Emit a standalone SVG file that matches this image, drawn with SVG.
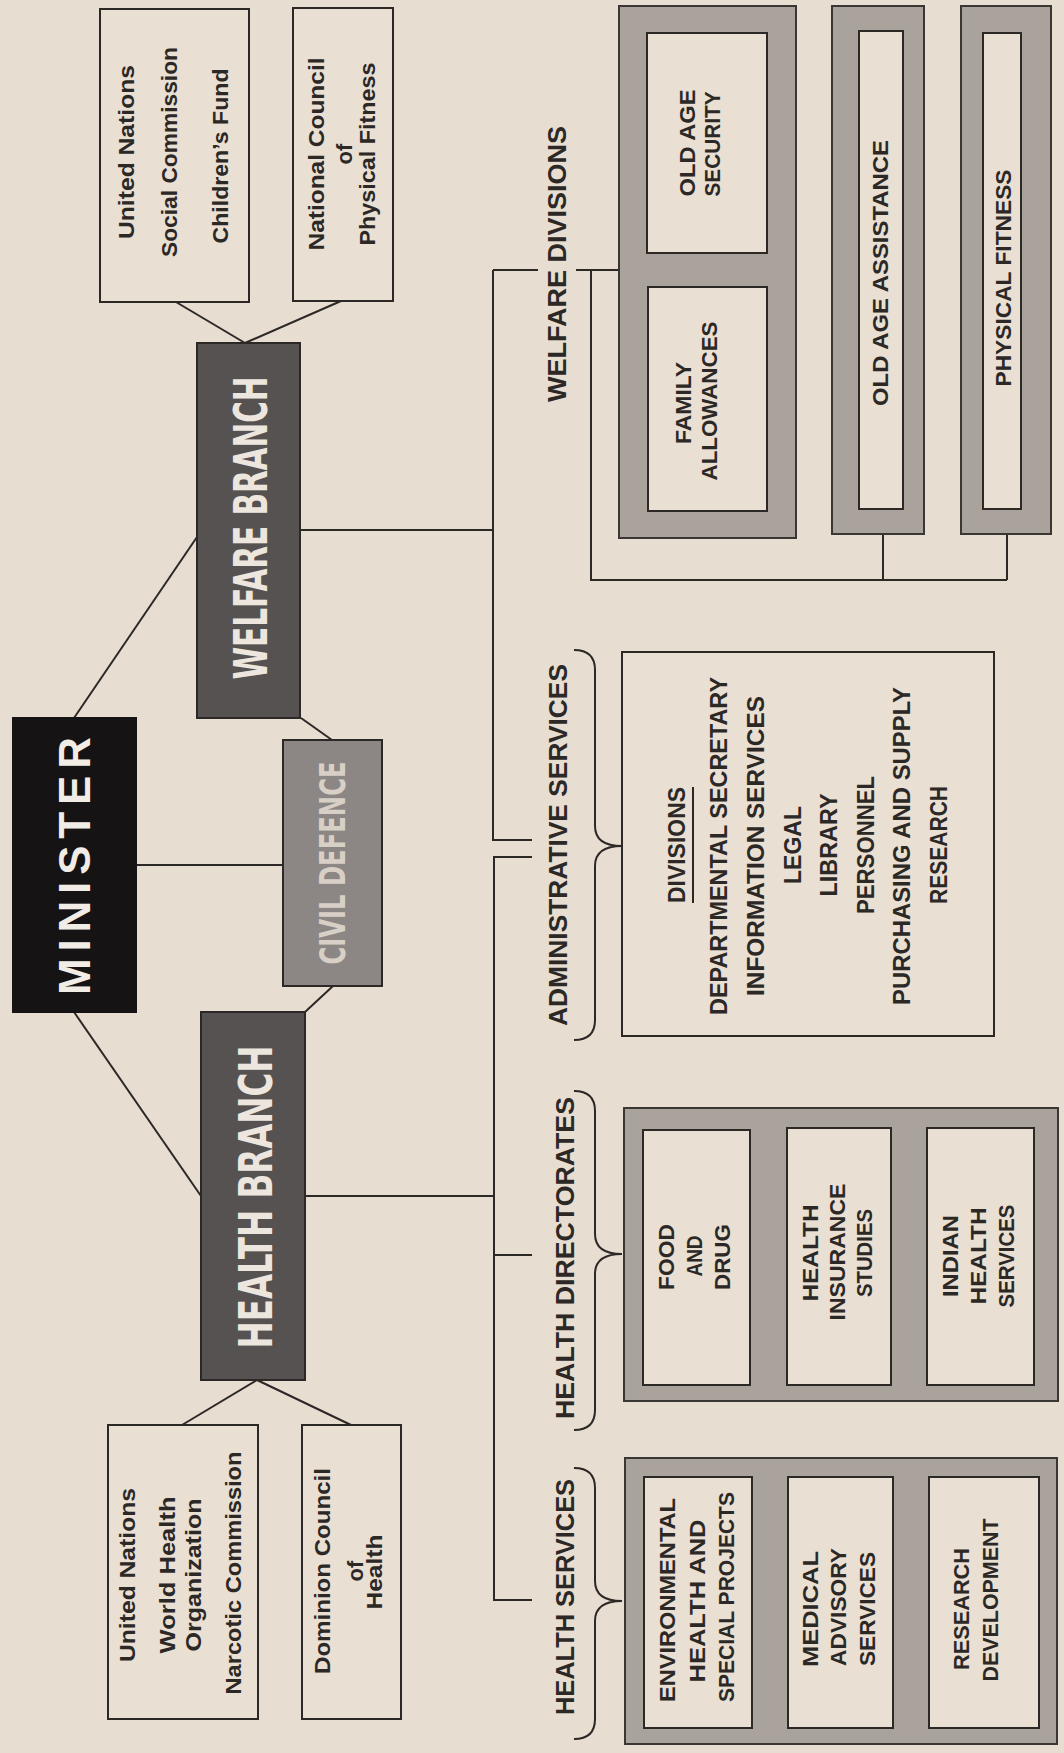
<svg xmlns="http://www.w3.org/2000/svg" width="1064" height="1753" viewBox="0 0 1064 1753">
<style>
.ln{stroke:#2b2826;stroke-width:2;fill:none}
.box{fill:#e9dfd3;stroke:#2b2826;stroke-width:2}
.outer{fill:#aaa39c;stroke:#3a3634;stroke-width:2}
.t{font-family:"Liberation Sans",Arial,sans-serif;font-weight:bold;fill:#2b2826;text-anchor:middle;dominant-baseline:central}
.n{font-family:"Liberation Sans Narrow","DejaVu Sans Condensed","Liberation Sans",sans-serif;font-weight:bold;text-anchor:middle;dominant-baseline:central}
.w{fill:#f1ece5}
.s22{font-size:22px}
.s23{font-size:23px}
.s26{font-size:26px}
</style>
<rect x="0" y="0" width="1064" height="1753" fill="#e8ddd1"/>

<g id="connectors">
  <line class="ln" x1="176" y1="302" x2="245" y2="343"/>
  <line class="ln" x1="341" y1="301" x2="245" y2="343"/>
  <line class="ln" x1="74" y1="718" x2="197" y2="537"/>
  <line class="ln" x1="74" y1="1012" x2="201" y2="1196"/>
  <line class="ln" x1="136" y1="865" x2="283" y2="865"/>
  <line class="ln" x1="301" y1="718" x2="332" y2="740"/>
  <line class="ln" x1="333" y1="986" x2="305" y2="1012"/>
  <line class="ln" x1="257" y1="1380" x2="182" y2="1425"/>
  <line class="ln" x1="257" y1="1380" x2="351" y2="1425"/>
  <line class="ln" x1="300" y1="530" x2="493" y2="530"/>
  <line class="ln" x1="306" y1="1196" x2="494" y2="1196"/>
  <path class="ln" d="M493 270 L493 840 L532 840"/>
  <path class="ln" d="M493 270 L538 270 M576 270 L619 270"/>
  <path class="ln" d="M532 857 L494 857 L494 1600 L532 1600"/>
  <line class="ln" x1="494" y1="1255" x2="532" y2="1255"/>
  <path class="ln" d="M591 270 L591 580 L1007 580 M883 534 L883 580 M1007 534 L1007 580"/>
  <path class="ln" d="M574 650 Q595 650 595 670 L595 826 Q595 846 622 846 Q595 846 595 866 L595 1020 Q595 1040 574 1040"/>
  <path class="ln" d="M574 1091 Q595 1091 595 1111 L595 1234 Q595 1254 622 1254 Q595 1254 595 1274 L595 1410 Q595 1430 574 1430"/>
  <path class="ln" d="M574 1468 Q595 1468 595 1488 L595 1581 Q595 1601 622 1601 Q595 1601 595 1621 L595 1719 Q595 1739 574 1739"/>
</g>

<g id="un-welfare">
  <rect class="box" x="100" y="9" width="149" height="293"/>
  <text class="t s22" transform="translate(126,152) rotate(-90)" textLength="174" lengthAdjust="spacingAndGlyphs">United Nations</text>
  <text class="t s22" transform="translate(169,152) rotate(-90)" textLength="210" lengthAdjust="spacingAndGlyphs">Social Commission</text>
  <text class="t s22" transform="translate(220,156) rotate(-90)" textLength="175" lengthAdjust="spacingAndGlyphs">Children’s Fund</text>
</g>
<g id="ncpf">
  <rect class="box" x="293" y="8" width="100" height="293"/>
  <text class="t s22" transform="translate(316,154) rotate(-90)" textLength="193" lengthAdjust="spacingAndGlyphs">National Council</text>
  <text class="t s22" transform="translate(344,154) rotate(-90)">of</text>
  <text class="t s22" transform="translate(367,154) rotate(-90)" textLength="183" lengthAdjust="spacingAndGlyphs">Physical Fitness</text>
</g>

<g id="welfare-branch">
  <rect x="197" y="343" width="103" height="375" fill="#575252" stroke="#2b2826" stroke-width="2"/>
  <text class="n" fill="#ece6de" font-size="47" transform="translate(250,528) rotate(-90)" textLength="303" lengthAdjust="spacingAndGlyphs">WELFARE BRANCH</text>
</g>

<g id="minister">
  <rect x="13" y="718" width="123" height="294" fill="#151313" stroke="#151313" stroke-width="2"/>
  <text class="t w" font-size="44" transform="translate(74,866) rotate(-90)" textLength="258" lengthAdjust="spacing">MINISTER</text>
</g>

<g id="civil-defence">
  <rect x="283" y="740" width="99" height="246" fill="#8c8784" stroke="#2b2826" stroke-width="2"/>
  <text class="n" fill="#d8d0c7" font-size="36" transform="translate(332,863) rotate(-90)" textLength="203" lengthAdjust="spacingAndGlyphs">CIVIL DEFENCE</text>
</g>

<g id="health-branch">
  <rect x="201" y="1012" width="104" height="368" fill="#575252" stroke="#2b2826" stroke-width="2"/>
  <text class="n" fill="#ece6de" font-size="47" transform="translate(255,1197) rotate(-90)" textLength="303" lengthAdjust="spacingAndGlyphs">HEALTH BRANCH</text>
</g>

<g id="un-health">
  <rect class="box" x="108" y="1425" width="150" height="294"/>
  <text class="t s22" transform="translate(127,1575) rotate(-90)" textLength="174" lengthAdjust="spacingAndGlyphs">United Nations</text>
  <text class="t s22" transform="translate(167,1575) rotate(-90)" textLength="157" lengthAdjust="spacingAndGlyphs">World Health</text>
  <text class="t s22" transform="translate(193,1575) rotate(-90)" textLength="153" lengthAdjust="spacingAndGlyphs">Organization</text>
  <text class="t s22" transform="translate(233,1573) rotate(-90)" textLength="243" lengthAdjust="spacingAndGlyphs">Narcotic Commission</text>
</g>
<g id="dominion">
  <rect class="box" x="302" y="1425" width="99" height="294"/>
  <text class="t s22" transform="translate(322,1571) rotate(-90)" textLength="206" lengthAdjust="spacingAndGlyphs">Dominion Council</text>
  <text class="t s22" transform="translate(355,1571) rotate(-90)">of</text>
  <text class="t s22" transform="translate(374,1572) rotate(-90)" textLength="75" lengthAdjust="spacingAndGlyphs">Health</text>
</g>

<g id="welfare-divisions-label">
  <text class="t s26" transform="translate(557,264) rotate(-90)" textLength="276" lengthAdjust="spacingAndGlyphs">WELFARE  DIVISIONS</text>
</g>
<g id="fa-oas">
  <rect class="outer" x="619" y="6" width="177" height="532"/>
  <rect class="box" x="647" y="33" width="120" height="220"/>
  <rect class="box" x="648" y="287" width="119" height="224"/>
  <text class="t s22" transform="translate(687,143) rotate(-90)" textLength="107" lengthAdjust="spacingAndGlyphs">OLD AGE</text>
  <text class="t s22" transform="translate(712,144) rotate(-90)" textLength="105" lengthAdjust="spacingAndGlyphs">SECURITY</text>
  <text class="t s22" transform="translate(683,403) rotate(-90)" textLength="82" lengthAdjust="spacingAndGlyphs">FAMILY</text>
  <text class="t s22" transform="translate(709,401) rotate(-90)" textLength="159" lengthAdjust="spacingAndGlyphs">ALLOWANCES</text>
</g>
<g id="oaa">
  <rect class="outer" x="832" y="6" width="92" height="528"/>
  <rect class="box" x="859" y="31" width="44" height="478"/>
  <text class="t s22" transform="translate(880,273) rotate(-90)" textLength="266" lengthAdjust="spacingAndGlyphs">OLD AGE ASSISTANCE</text>
</g>
<g id="pf">
  <rect class="outer" x="961" y="6" width="90" height="528"/>
  <rect class="box" x="983" y="33" width="38" height="476"/>
  <text class="t s22" transform="translate(1003,278) rotate(-90)" textLength="217" lengthAdjust="spacingAndGlyphs">PHYSICAL FITNESS</text>
</g>

<g id="admin-services">
  <text class="t s26" transform="translate(558,845) rotate(-90)" textLength="362" lengthAdjust="spacingAndGlyphs">ADMINISTRATIVE SERVICES</text>
  <rect class="box" x="622" y="652" width="372" height="384"/>
  <text class="t s23" transform="translate(677,845) rotate(-90)" textLength="116" lengthAdjust="spacingAndGlyphs">DIVISIONS</text>
  <line class="ln" x1="693" y1="787" x2="693" y2="903"/>
  <text class="t s23" transform="translate(719,846) rotate(-90)" textLength="338" lengthAdjust="spacingAndGlyphs">DEPARTMENTAL SECRETARY</text>
  <text class="t s23" transform="translate(756,846) rotate(-90)" textLength="300" lengthAdjust="spacingAndGlyphs">INFORMATION SERVICES</text>
  <text class="t s23" transform="translate(793,845) rotate(-90)" textLength="78" lengthAdjust="spacingAndGlyphs">LEGAL</text>
  <text class="t s23" transform="translate(829,845) rotate(-90)" textLength="103" lengthAdjust="spacingAndGlyphs">LIBRARY</text>
  <text class="t s23" transform="translate(866,845) rotate(-90)" textLength="138" lengthAdjust="spacingAndGlyphs">PERSONNEL</text>
  <text class="t s23" transform="translate(902,846) rotate(-90)" textLength="318" lengthAdjust="spacingAndGlyphs">PURCHASING AND SUPPLY</text>
  <text class="t s23" transform="translate(939,845) rotate(-90)" textLength="118" lengthAdjust="spacingAndGlyphs">RESEARCH</text>
</g>

<g id="health-directorates">
  <text class="t s26" transform="translate(565,1258) rotate(-90)" textLength="322" lengthAdjust="spacingAndGlyphs">HEALTH DIRECTORATES</text>
  <rect class="outer" x="624" y="1108" width="434" height="293"/>
  <rect class="box" x="643" y="1130" width="107" height="255"/>
  <rect class="box" x="787" y="1128" width="104" height="257"/>
  <rect class="box" x="927" y="1128" width="107" height="257"/>
  <text class="t s22" transform="translate(666,1257) rotate(-90)" textLength="66" lengthAdjust="spacingAndGlyphs">FOOD</text>
  <text class="t s22" transform="translate(694,1256) rotate(-90)" textLength="41" lengthAdjust="spacingAndGlyphs">AND</text>
  <text class="t s22" transform="translate(722,1257) rotate(-90)" textLength="66" lengthAdjust="spacingAndGlyphs">DRUG</text>
  <text class="t s22" transform="translate(810,1253) rotate(-90)" textLength="97" lengthAdjust="spacingAndGlyphs">HEALTH</text>
  <text class="t s22" transform="translate(837,1252) rotate(-90)" textLength="137" lengthAdjust="spacingAndGlyphs">INSURANCE</text>
  <text class="t s22" transform="translate(864,1253) rotate(-90)" textLength="88" lengthAdjust="spacingAndGlyphs">STUDIES</text>
  <text class="t s22" transform="translate(950,1256) rotate(-90)" textLength="82" lengthAdjust="spacingAndGlyphs">INDIAN</text>
  <text class="t s22" transform="translate(978,1256) rotate(-90)" textLength="97" lengthAdjust="spacingAndGlyphs">HEALTH</text>
  <text class="t s22" transform="translate(1006,1256) rotate(-90)" textLength="103" lengthAdjust="spacingAndGlyphs">SERVICES</text>
</g>

<g id="health-services">
  <text class="t s26" transform="translate(565,1597) rotate(-90)" textLength="236" lengthAdjust="spacingAndGlyphs">HEALTH SERVICES</text>
  <rect class="outer" x="625" y="1458" width="432" height="286"/>
  <rect class="box" x="644" y="1477" width="108" height="251"/>
  <rect class="box" x="788" y="1477" width="105" height="251"/>
  <rect class="box" x="929" y="1477" width="110" height="251"/>
  <text class="t s22" transform="translate(667,1600) rotate(-90)" textLength="204" lengthAdjust="spacingAndGlyphs">ENVIRONMENTAL</text>
  <text class="t s22" transform="translate(697,1601) rotate(-90)" textLength="163" lengthAdjust="spacingAndGlyphs">HEALTH AND</text>
  <text class="t s22" transform="translate(726,1597) rotate(-90)" textLength="210" lengthAdjust="spacingAndGlyphs">SPECIAL PROJECTS</text>
  <text class="t s22" transform="translate(810,1609) rotate(-90)" textLength="116" lengthAdjust="spacingAndGlyphs">MEDICAL</text>
  <text class="t s22" transform="translate(838,1607) rotate(-90)" textLength="118" lengthAdjust="spacingAndGlyphs">ADVISORY</text>
  <text class="t s22" transform="translate(867,1609) rotate(-90)" textLength="114" lengthAdjust="spacingAndGlyphs">SERVICES</text>
  <text class="t s22" transform="translate(961,1609) rotate(-90)" textLength="122" lengthAdjust="spacingAndGlyphs">RESEARCH</text>
  <text class="t s22" transform="translate(990,1600) rotate(-90)" textLength="163" lengthAdjust="spacingAndGlyphs">DEVELOPMENT</text>
</g>
</svg>
